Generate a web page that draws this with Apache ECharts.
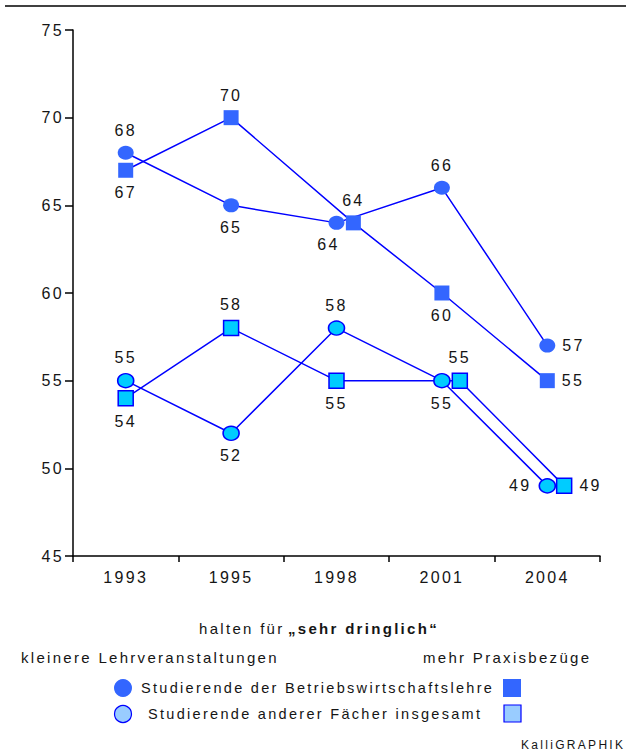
<!DOCTYPE html>
<html>
<head>
<meta charset="utf-8">
<script src="https://cdn.jsdelivr.net/npm/echarts@6/dist/echarts.min.js"></script>
<style>
  html, body { margin: 0; padding: 0; background: #fff; }
  #chart { width: 626px; height: 756px; }
  /* tracked-out lettering used throughout the graphic */
  #chart text { letter-spacing: 2.3px; }
</style>
</head>
<body>
<div id="chart"></div>
<script>
// Survey years and shares (%) of students who rate the measure "sehr dringlich"
const years = ['1993', '1995', '1998', '2001', '2004'];
const bwlKleiner = [68, 65, 64, 66, 57];      // BWL students: smaller classes
const bwlPraxis = [67, 70, 64, 60, 55];       // BWL students: more practical relevance
const andereKleiner = [55, 52, 58, 55, 49];   // other subjects: smaller classes
const anderePraxis = [54, 58, 55, 55, 49];    // other subjects: more practical relevance
const yTicks = [45, 50, 55, 60, 65, 70, 75];

const FONT = '"Liberation Sans", Arial, sans-serif';
const INK = '#151515';
const LINE = '#0000ff';
const DARK = '#3366ff';
const LIGHT = '#00ccff';
const LEGEND_LIGHT = '#99ccff';

// small sideways shift so coinciding markers stay readable
function points(values, shift, labelPos) {
  return values.map((v, i) => {
    const pos = labelPos[i];
    const item = { value: [i + (shift[i] || 0), v], label: { position: pos[0] } };
    if (pos[1]) item.label.offset = pos[1];
    return item;
  });
}

function series(name, values, shift, labelPos, symbol, fill, border) {
  return {
    name: name,
    type: 'line',
    xAxisIndex: 1,
    data: points(values, shift, labelPos),
    symbol: symbol,
    symbolSize: symbol === 'circle' ? [16, 14] : [15, 15],
    lineStyle: { color: LINE, width: 1.5 },
    itemStyle: { color: fill, borderColor: border, borderWidth: border === fill ? 0 : 1.5 },
    label: {
      show: true, distance: 7, color: INK, fontSize: 16, fontFamily: FONT,
      formatter: p => p.value[1]
    },
    emphasis: { disabled: true },
    z: 3
  };
}

const chart = echarts.init(document.getElementById('chart'), null, { renderer: 'svg' });

function txt(x, y, text, size, extra) {
  return {
    type: 'text', x: x, y: y,
    style: Object.assign({ text: text, fontSize: size, fontFamily: FONT, fill: INK, verticalAlign: 'middle' }, extra || {})
  };
}

chart.setOption({
  animation: false,
  backgroundColor: '#fff',
  grid: { left: 73, right: 26, top: 30, bottom: 200 },
  xAxis: [
    {
      type: 'category', data: years, boundaryGap: true,
      axisLine: { lineStyle: { color: '#000', width: 1.5 } },
      axisTick: { show: true, length: 6, lineStyle: { color: '#000', width: 1.5 } },
      axisLabel: { color: INK, fontSize: 16, fontFamily: FONT, margin: 13 },
      splitLine: { show: false }
    },
    {
      type: 'value', min: -0.5, max: 4.5, show: false
    }
  ],
  yAxis: {
    type: 'value', min: yTicks[0], max: yTicks[yTicks.length - 1], interval: 5,
    axisLine: { show: true, onZero: false, lineStyle: { color: '#000', width: 1.5 } },
    axisTick: { show: true, length: 8, lineStyle: { color: '#000', width: 1.5 } },
    axisLabel: { color: INK, fontSize: 16, fontFamily: FONT, margin: 9 },
    splitLine: { show: false }
  },
  series: [
    series('BWL kleinere Lehrveranstaltungen', bwlKleiner, [0, 0, 0, 0, 0],
      [['top'], ['bottom'], ['bottom', [-8, 0]], ['top'], ['right']], 'circle', DARK, DARK),
    series('BWL mehr Praxisbezüge', bwlPraxis, [0, 0, 0.16, 0, 0],
      [['bottom'], ['top'], ['top'], ['bottom'], ['right']], 'rect', DARK, DARK),
    series('Andere kleinere Lehrveranstaltungen', andereKleiner, [0, 0, 0, 0, 0],
      [['top'], ['bottom'], ['top'], ['bottom'], ['left']], 'circle', LIGHT, LINE),
    series('Andere mehr Praxisbezüge', anderePraxis, [0, 0, 0, 0.17, 0.16],
      [['bottom'], ['top'], ['bottom'], ['top'], ['right']], 'rect', LIGHT, LINE)
  ],
  graphic: [
    { type: 'line', shape: { x1: 5, y1: 6, x2: 626, y2: 6 }, style: { stroke: '#000', lineWidth: 1.5 } },
    txt(199, 628, 'halten für', 15),
    txt(288, 628, '„sehr dringlich“', 15, { fontWeight: 'bold' }),
    txt(21, 657, 'kleinere Lehrveranstaltungen', 15),
    txt(423, 657, 'mehr Praxisbezüge', 15),
    { type: 'circle', shape: { cx: 123, cy: 688, r: 9 }, style: { fill: DARK } },
    txt(141, 688, 'Studierende der Betriebswirtschaftslehre', 14.5),
    { type: 'rect', shape: { x: 503, y: 679, width: 18, height: 18 }, style: { fill: DARK } },
    { type: 'circle', shape: { cx: 123, cy: 714, r: 8.5 }, style: { fill: LEGEND_LIGHT, stroke: LINE, lineWidth: 1.2 } },
    txt(148, 714, 'Studierende anderer Fächer insgesamt', 14.5),
    { type: 'rect', shape: { x: 504, y: 705, width: 17, height: 17 }, style: { fill: LEGEND_LIGHT, stroke: LINE, lineWidth: 1.2 } },
    txt(521, 745, 'KalliGRAPHIK', 12)
  ]
});
</script>
</body>
</html>
